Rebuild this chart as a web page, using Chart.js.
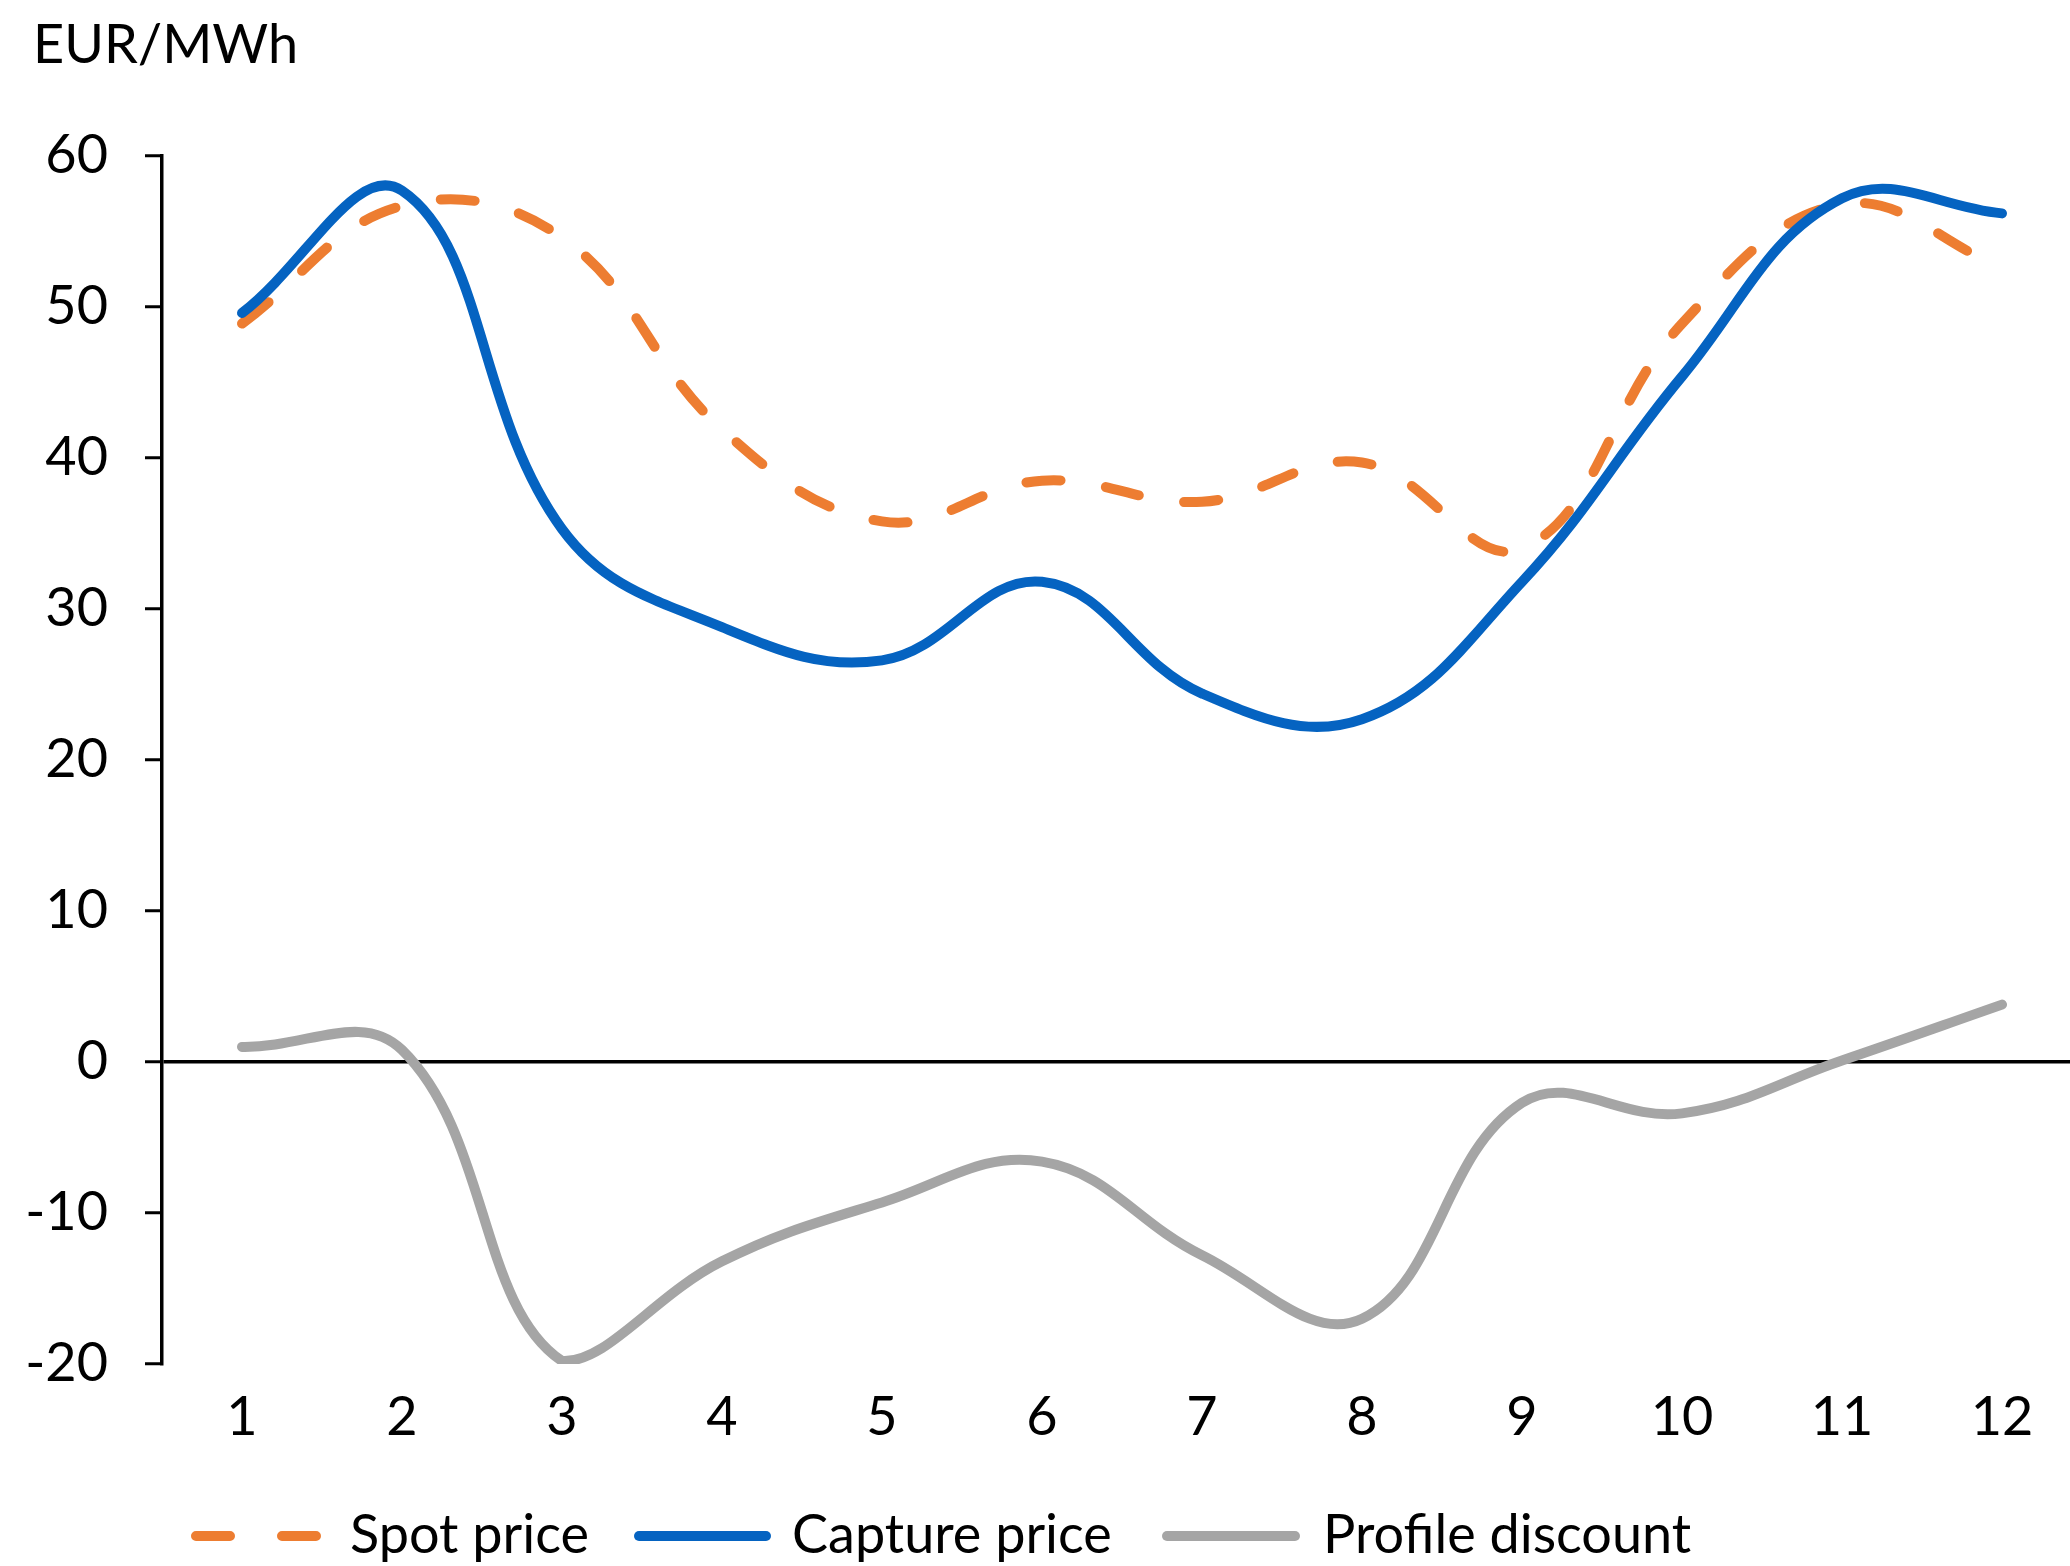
<!DOCTYPE html>
<html>
<head>
<meta charset="utf-8">
<title>Spot vs capture price</title>
<script src="https://cdn.jsdelivr.net/npm/chart.js@4.4.0/dist/chart.umd.min.js"></script>
<style>
    html, body { margin: 0; padding: 0; background: #ffffff; }
    #wrap { width: 2070px; height: 1566px; }
</style>
</head>
<body>
<div id="wrap"><canvas id="chart" width="2070" height="1566"></canvas></div>
<script>
const months = [1, 2, 3, 4, 5, 6, 7, 8, 9, 10, 11, 12];
const spotPrice = [48.9, 56.7, 54.6, 41.9, 35.8, 38.5, 37.1, 39.7, 34.0, 48.9, 56.8, 52.6];
const capturePrice = [49.6, 57.7, 35.3, 28.8, 26.6, 31.8, 24.4, 22.7, 31.8, 45.4, 57.2, 56.2];
const profileDiscount = [1.0, 0.8, -19.8, -13.2, -9.3, -6.6, -12.8, -17.0, -2.7, -3.4, 0.1, 3.8];
const yTicks = [-20, -10, 0, 10, 20, 30, 40, 50, 60];
const seriesNames = ["Spot price", "Capture price", "Profile discount"];
const unitLabel = "EUR/MWh";

const FONT = "Lato";
const ORANGE = "#ED7D31";
const BLUE = "#0563C1";
const GREY = "#A5A5A5";
const LINE_W = 10;

function toPoints(values) {
    return values.map((v, i) => ({ x: months[i], y: v }));
}

// title and legend drawn straight on the canvas
const extras = {
    id: "extras",
    afterDraw(chart) {
        const ctx = chart.ctx;
        ctx.save();
        ctx.fillStyle = "#000";
        ctx.font = `54px ${FONT}`;
        ctx.textAlign = "left";
        ctx.textBaseline = "alphabetic";
        ctx.fillText(unitLabel, 33, 63);

        const y = 1536;
        const items = [
            { color: ORANGE, dash: [34, 52], x0: 191, x1: 323, tx: 350 },
            { color: BLUE, dash: [], x0: 634, x1: 771, tx: 792 },
            { color: GREY, dash: [], x0: 1162, x1: 1300, tx: 1323 }
        ];
        items.forEach((it, i) => {
            ctx.strokeStyle = it.color;
            ctx.lineWidth = LINE_W;
            ctx.lineCap = "round";
            ctx.setLineDash(it.dash);
            ctx.beginPath();
            ctx.moveTo(it.x0 + LINE_W / 2, y);
            ctx.lineTo(it.x1 - LINE_W / 2, y);
            ctx.stroke();
            ctx.setLineDash([]);
            ctx.textBaseline = "middle";
            ctx.fillText(seriesNames[i], it.tx, y);
        });
        ctx.restore();
    }
};

const ctx = document.getElementById("chart").getContext("2d");
new Chart(ctx, {
    type: "line",
    data: {
        datasets: [
            {
                label: seriesNames[0],
                data: toPoints(spotPrice),
                borderColor: ORANGE,
                borderWidth: LINE_W,
                borderDash: [34, 46],
                borderCapStyle: "round",
                order: 3
            },
            {
                label: seriesNames[1],
                data: toPoints(capturePrice),
                borderColor: BLUE,
                borderWidth: LINE_W,
                borderCapStyle: "round",
                order: 2
            },
            {
                label: seriesNames[2],
                data: toPoints(profileDiscount),
                borderColor: GREY,
                borderWidth: LINE_W,
                borderCapStyle: "round",
                order: 1
            }
        ]
    },
    options: {
        responsive: false,
        animation: false,
        devicePixelRatio: 1,
        layout: { padding: { left: 0, top: 156, right: 0, bottom: 0 } },
        elements: {
            point: { radius: 0, hoverRadius: 0 },
            line: { tension: 0.4, fill: false }
        },
        plugins: {
            legend: { display: false },
            tooltip: { enabled: false }
        },
        scales: {
            x: {
                type: "linear",
                min: 0.5,
                max: 12.425,
                afterBuildTicks: scale => { scale.ticks = months.map(v => ({ value: v })); },
                afterFit: scale => { scale.height = 202; },
                grid: { display: false, drawTicks: false },
                border: { display: false },
                ticks: {
                    color: "#000",
                    font: { family: FONT, size: 54 },
                    padding: 21,
                    autoSkip: false,
                    maxRotation: 0
                }
            },
            y: {
                min: -20,
                max: 60,
                afterBuildTicks: scale => { scale.ticks = yTicks.map(v => ({ value: v })); },
                afterFit: scale => { scale.width = 162; },
                grid: {
                    color: c => (c.tick && c.tick.value === 0 ? "#000" : "rgba(0,0,0,0)"),
                    lineWidth: 3.5,
                    tickColor: "#000",
                    tickLength: 17,
                    tickWidth: 3
                },
                border: { display: true, color: "#000", width: 3.5 },
                ticks: {
                    color: "#000",
                    font: { family: FONT, size: 54 },
                    padding: 37
                }
            }
        }
    },
    plugins: [extras]
});
</script>
</body>
</html>
